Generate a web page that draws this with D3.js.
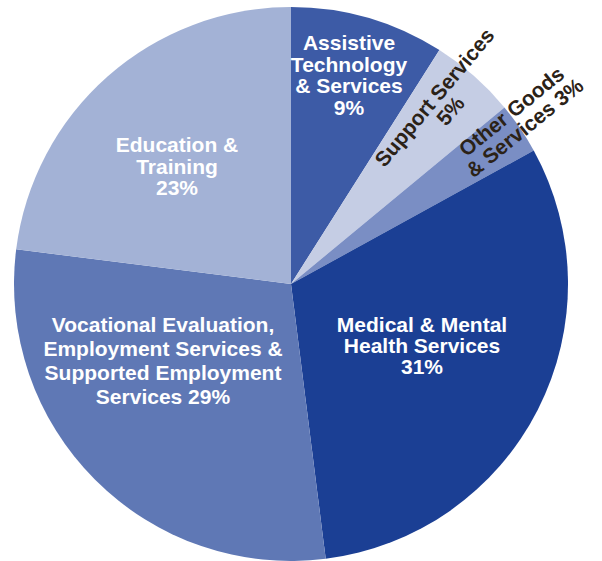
<!DOCTYPE html>
<html><head><meta charset="utf-8">
<script src="https://cdn.jsdelivr.net/npm/d3@7"></script>
<style>body{margin:0;background:#fff}svg{display:block}text{font-family:"Liberation Sans",Arial,sans-serif;font-weight:bold}</style>
</head><body><svg id="c" width="602" height="561"></svg>
<script>
const categories = ["Assistive Technology & Services","Support Services","Other Goods & Services","Medical & Mental Health Services","Vocational Evaluation, Employment Services & Supported Employment Services","Education & Training"];
const values = [9,5,3,31,29,23];
const colors = ["#3d5ba6","#c5cde4","#7a8ec4","#1b3f94","#5f78b5","#a3b2d6"];
const labelLines = [
  ["Assistive","Technology","& Services","9%"],
  ["Support Services","5%"],
  ["Other Goods","& Services 3%"],
  ["Medical & Mental","Health Services","31%"],
  ["Vocational Evaluation,","Employment Services &","Supported Employment","Services 29%"],
  ["Education &","Training","23%"]
];
// label placement: [x, y of first line baseline, rotation, line height, color]
const labelPos = [
  [349,50,0,21.5,"#fff"],
  [440,102,-50,21,"#2b2217"],
  [516,117,-39,21,"#2b2217"],
  [422,332,0,21,"#fff"],
  [163,332,0,24,"#fff"],
  [177,152,0,21.5,"#fff"]
];
const svg = d3.select("#c");
const cx=291, cy=284, r=277;
const pie = d3.pie().sort(null).value(d=>d)(values);
const arc = d3.arc().innerRadius(0).outerRadius(r);
const g = svg.append("g").attr("transform",`translate(${cx},${cy})`);
g.selectAll("path").data(pie).join("path").attr("d",arc).attr("fill",(d,i)=>colors[i]);
labelLines.forEach((lines,i)=>{
  const [x,y,rot,lh,col]=labelPos[i];
  const t = svg.append("text").attr("text-anchor","middle").attr("font-size",21).attr("fill",col)
    .attr("transform",`translate(${x},${y}) rotate(${rot})`);
  lines.forEach((l,j)=>t.append("tspan").attr("x",0).attr("y",j*lh).text(l));
});
</script></body></html>
